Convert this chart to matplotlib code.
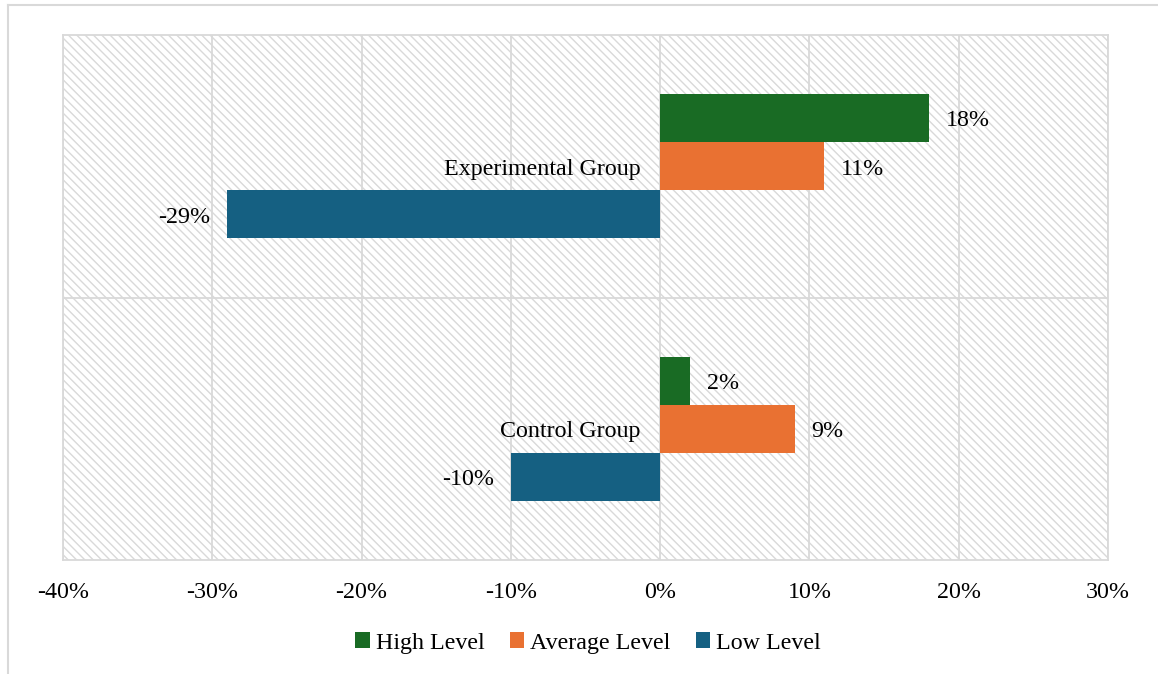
import numpy as np
import matplotlib
matplotlib.use("Agg")
from matplotlib import pyplot as plt
from matplotlib.patches import Rectangle
from matplotlib.lines import Line2D

groups = ['Control Group', 'Experimental Group']
high = [2, 18]
average = [9, 11]
low = [-10, -29]
series_names = ['High Level', 'Average Level', 'Low Level']
colors = ['#196B24', '#E97132', '#156082']
x_ticks = [-40, -30, -20, -10, 0, 10, 20, 30]

plt.rcParams['font.family'] = ['Liberation Serif', 'DejaVu Serif']
plt.rcParams['font.size'] = 17.3
plt.rcParams['hatch.color'] = '#d9d9d9'
plt.rcParams['hatch.linewidth'] = 1.0

fig = plt.figure(figsize=(11.58, 6.74), dpi=100)
ax = fig.add_axes([63 / 1158, 1 - 560 / 674, (1108 - 63) / 1158, (560 - 35) / 674])

# hatched plot area background
ax.add_patch(Rectangle((0, 0), 1, 1, transform=ax.transAxes, facecolor='white',
                       edgecolor='#d9d9d9', linewidth=0, hatch='\\\\\\\\', zorder=0))

y = np.arange(len(groups))
h = 0.183
offsets = [h, 0, -h]
for vals, name, col, off in zip([high, average, low], series_names, colors, offsets):
    bars = ax.barh(y + off, vals, height=h, color=col, label=name, zorder=2)
    for b, v in zip(bars, vals):
        ax.annotate(f'{v}%', (v, b.get_y() + h / 2),
                    xytext=(12 if v >= 0 else -12, -2), textcoords='offset points',
                    ha='left' if v >= 0 else 'right', va='center')

# category labels next to the zero line
for yi, g in zip(y, groups):
    ax.annotate(g, (0, yi), xytext=(-14, -2), textcoords='offset points',
                ha='right', va='center')

ax.set_xlim(-40, 30)
ax.set_ylim(-0.5, 1.5)
ax.set_xticks(x_ticks)
ax.set_xticklabels([f'{t}%' for t in x_ticks])
ax.set_yticks([0.5])
ax.set_yticklabels([])
ax.tick_params(length=0, pad=16)
ax.grid(True, color='#d9d9d9', linewidth=1.3)
ax.set_axisbelow(True)
for s in ax.spines.values():
    s.set_color('#d9d9d9')
    s.set_linewidth(1.3)

fig.legend(loc='center', bbox_to_anchor=(0.508, 1 - 643 / 674), ncol=3, frameon=False,
           handlelength=0.6, handleheight=0.6, handletextpad=0.25, columnspacing=1.05)

# outer chart border (top and left visible)
fig.add_artist(Line2D([8 / 1158, 8 / 1158], [0, 1 - 5 / 674], color='#d9d9d9', linewidth=1.5))
fig.add_artist(Line2D([8 / 1158, 1], [1 - 5 / 674, 1 - 5 / 674], color='#d9d9d9', linewidth=1.5))

fig.savefig('out.png', dpi=100)
